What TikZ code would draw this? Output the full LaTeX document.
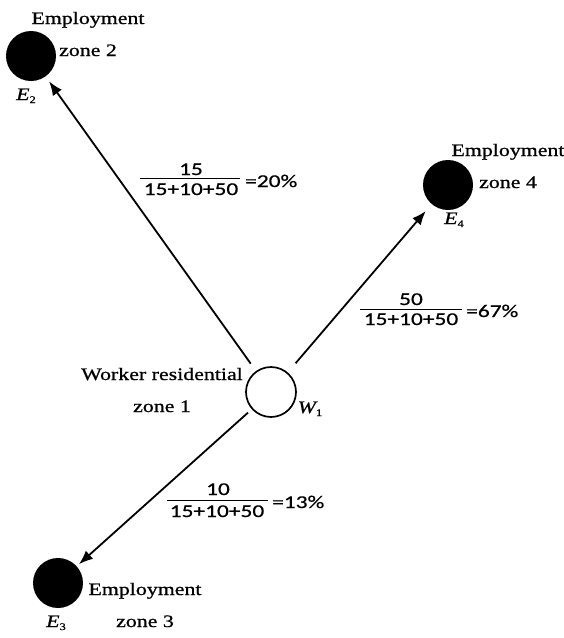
\documentclass[tikz,border=0pt]{standalone}
\usepackage{fontspec}
\setmainfont{Liberation Serif}[FakeStretch=1.25,FakeBold=0.8]
\newfontfamily\fracfont{Carlito}[FakeStretch=1.3,FakeBold=0.6]
\usetikzlibrary{arrows.meta}
\newcommand{\lowidx}[1]{{\upshape\fontsize{10}{10}\selectfont\raisebox{-3pt}{#1}}}
\begin{document}
\begin{tikzpicture}[x=1pt,y=-1pt,
  zone/.style={circle,fill=black,minimum size=50pt,inner sep=0pt},
  home/.style={circle,draw=black,line width=1.7pt,fill=white,minimum size=50pt,inner sep=0pt},
  lbl/.style={anchor=base,font=\fontsize{17.5}{20}\selectfont,inner sep=0pt},
  sym/.style={anchor=base,font=\fontsize{17.5}{20}\selectfont\itshape,inner sep=0pt},
  frac/.style={anchor=base,font=\fracfont\fontsize{18}{20}\selectfont,inner sep=0pt},
  bar/.style={line width=0.8pt},
  flow/.style={line width=1.8pt,-{Latex[length=14pt,width=11pt]}}]
\useasboundingbox (0,0) rectangle (564,638);

% zones
\node[home] (w1) at (271,392) {};
\node[zone] (e2) at (31,56) {};
\node[zone] (e4) at (448,185) {};
\node[zone] (e3) at (58,583) {};

% zone captions
\node[lbl] (t2a) at (88,24) {Employment};
\node[lbl] (t2b) at (88,56) {zone 2};
\node[lbl] (t4a) at (508,156) {Employment};
\node[lbl] (t4b) at (508,188) {zone 4};
\node[lbl] (t3a) at (145,595) {Employment};
\node[lbl] (t3b) at (145,627) {zone 3};
\node[lbl] (t1a) at (162,380) {Worker residential};
\node[lbl] (t1b) at (162,412) {zone 1};

% symbols
\node[sym] (s2) at (26,100) {E\lowidx{2}};
\node[sym] (s4) at (454,224) {E\lowidx{4}};
\node[sym] (s3) at (56,627) {E\lowidx{3}};
\node[sym] (s1) at (310,413) {W\lowidx{1}};

% trips
\draw[flow,shorten <=9pt,shorten >=6pt] (w1) -- (e2);
\draw[flow,shorten <=12pt,shorten >=9pt] (w1) -- (e4);
\draw[flow,shorten <=5pt,shorten >=3pt] (w1) -- (e3);

% shares
\node[frac] (n1) at (191,175) {15};
\node[frac] (d1) at (191,195) {15+10+50};
\draw[bar] (140,178) -- (240,178);
\node[frac,anchor=base west] (p1) at (245,187) {=20\%};

\node[frac] (n2) at (411,305) {50};
\node[frac] (d2) at (411,325) {15+10+50};
\draw[bar] (360,309) -- (462,309);
\node[frac,anchor=base west] (p2) at (466,317) {=67\%};

\node[frac] (n3) at (218,495) {10};
\node[frac] (d3) at (217,517) {15+10+50};
\draw[bar] (167,500) -- (268,500);
\node[frac,anchor=base west] (p3) at (272,508) {=13\%};
\end{tikzpicture}
\end{document}
